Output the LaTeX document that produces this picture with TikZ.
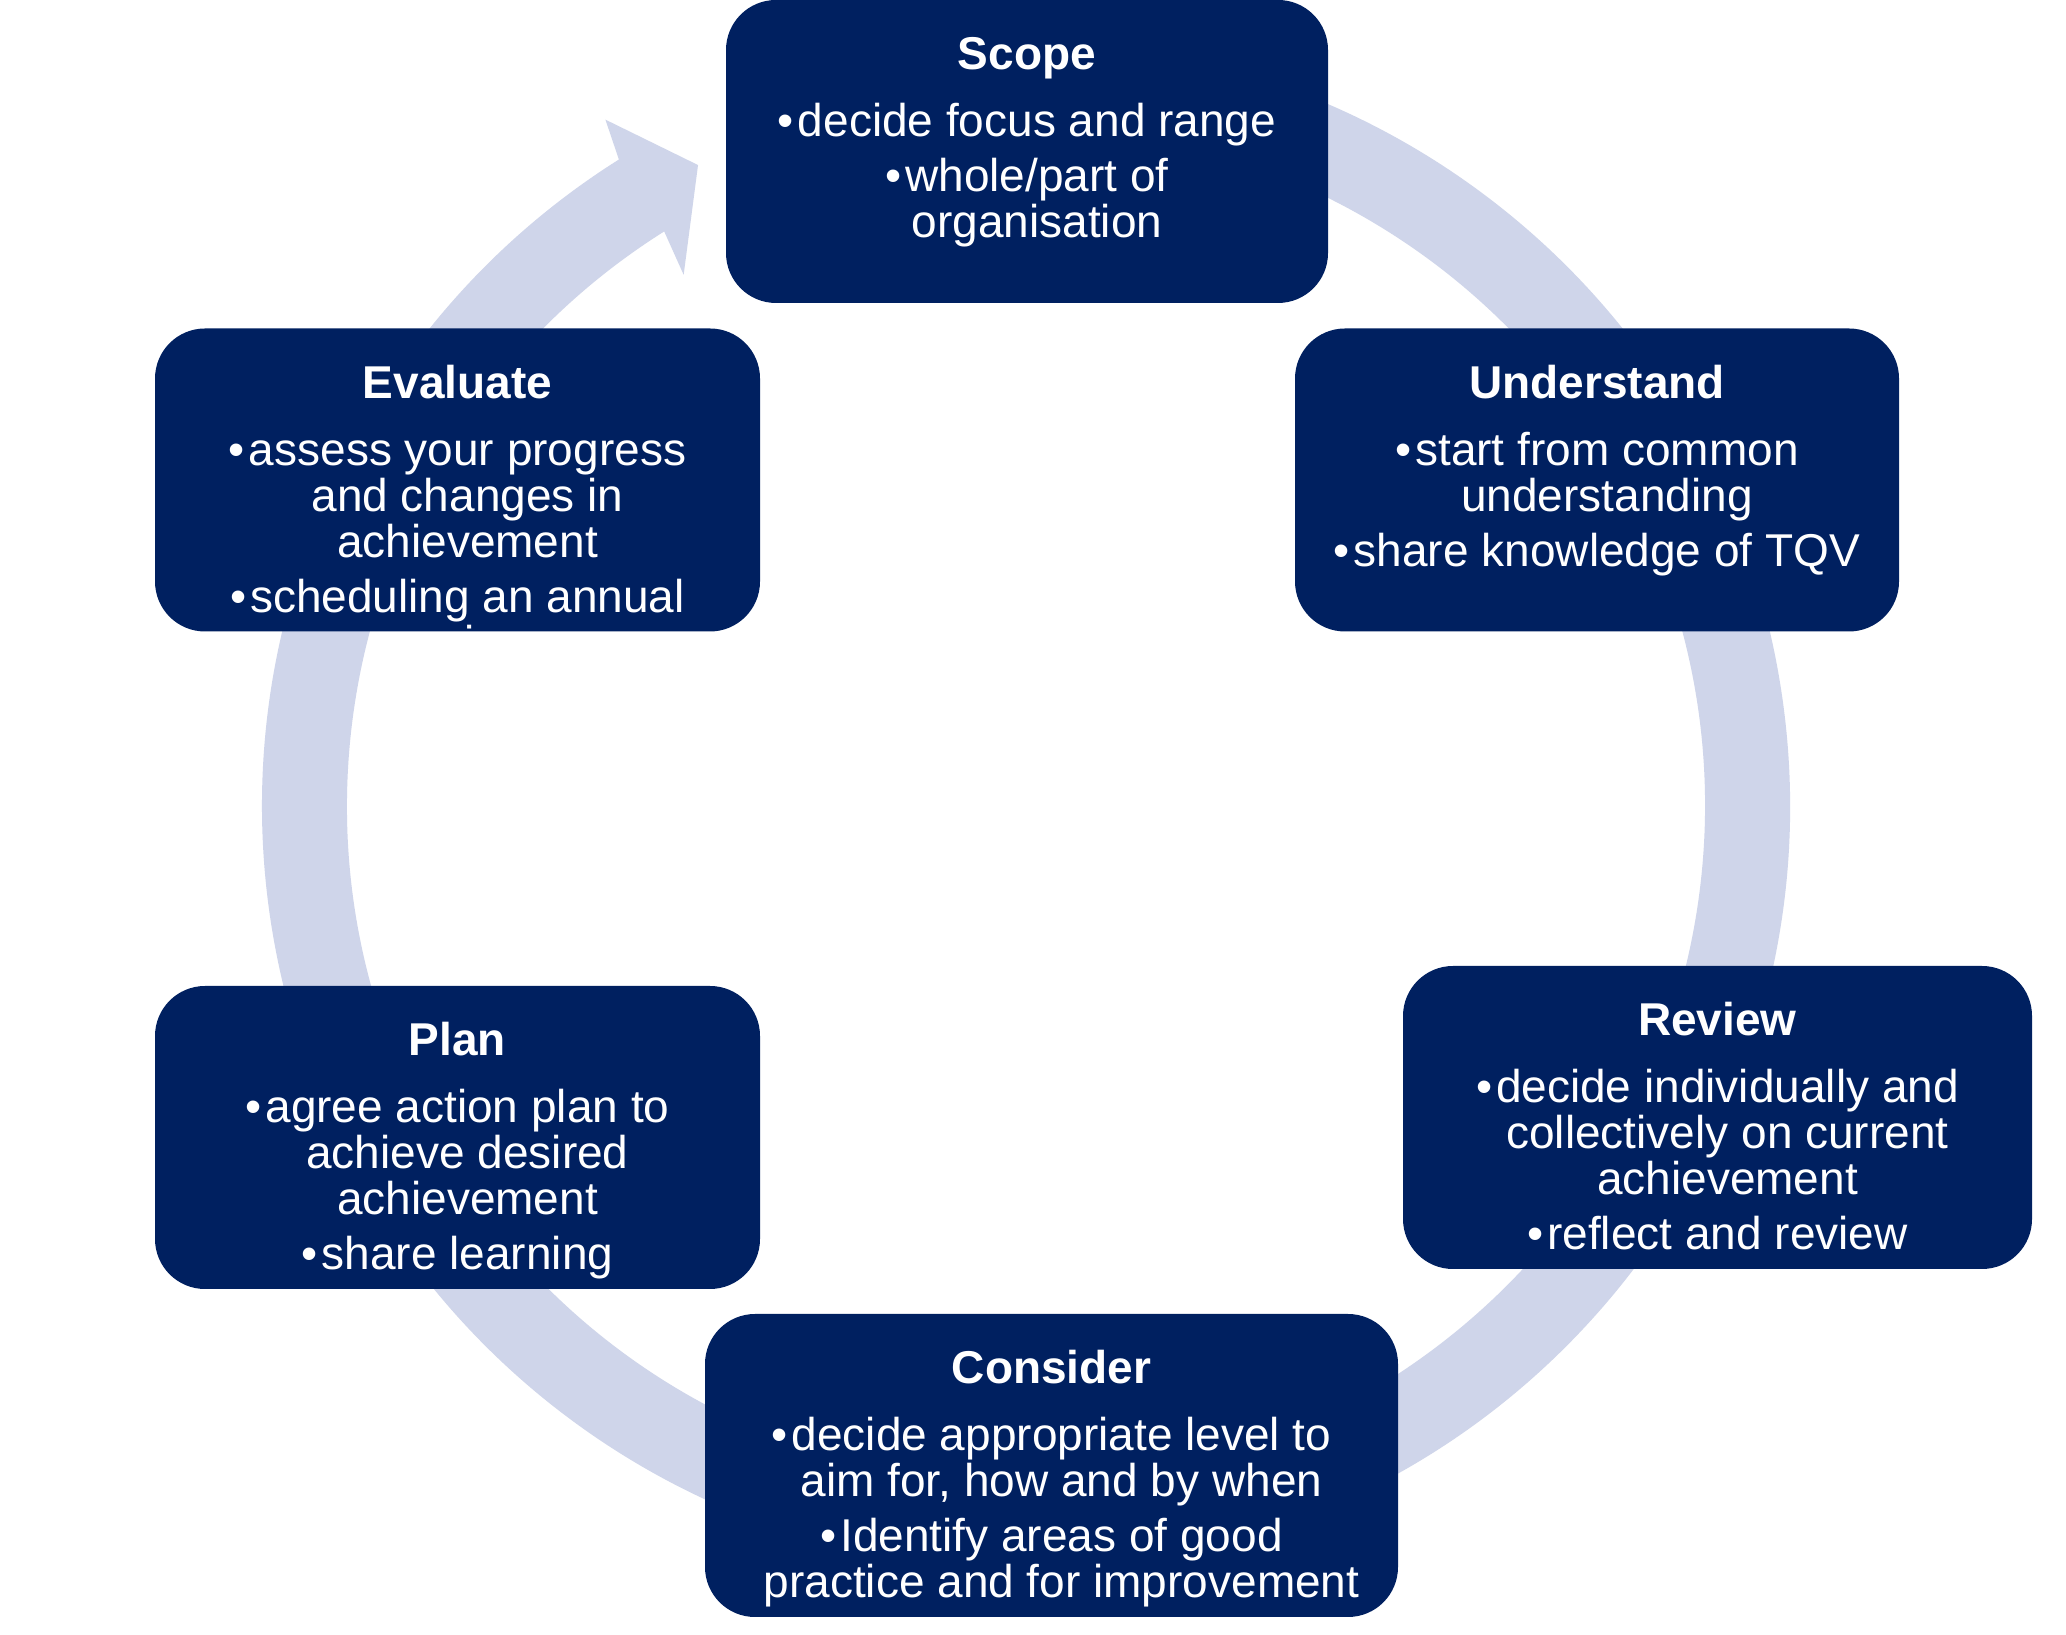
\documentclass[tikz,border=0pt]{standalone}
\usepackage{fontspec}
\setmainfont{Liberation Sans}
\definecolor{navy}{RGB}{0,32,96}
\definecolor{ringc}{RGB}{207,213,234}
\newcommand\bulx{\makebox[20pt][l]{•}}
\newcommand\indx{\hspace*{20pt}}
\newcommand\ttl[1]{\textbf{\rule{0pt}{40pt}#1}}
\begin{document}
\begin{tikzpicture}[x=1pt,y=1pt,
  stepbox/.style={fill=navy, rounded corners=50pt, inner sep=0pt, minimum height=303pt},
  txt/.style={text=white, align=center, inner sep=0pt, anchor=north, font=\fontsize{46}{46}\selectfont}]
\useasboundingbox (0,0) rectangle (2066,1635);
\fill[white] (0,0) rectangle (2066,1635);
% cycle arrow
\fill[ringc, shift={(1026,829)}] (100:764) arc[start angle=100, end angle=-237.8, radius=764]
  -- (-238.5:805) -- (-242.9:720) -- (-237.2:632) -- (-237.8:679)
  arc[start angle=-237.8, end angle=100, radius=679] -- cycle;
% boxes
\node[stepbox, minimum width=602pt] (scope) at (1027,1483.5) {};
\node[stepbox, minimum width=604pt] (understand) at (1597,1155) {};
\node[stepbox, minimum width=629pt] (review) at (1717.5,517.5) {};
\node[stepbox, minimum width=693pt] (consider) at (1051.5,169.5) {};
\node[stepbox, minimum width=605pt] (plan) at (457.5,497.5) {};
\node[stepbox, minimum width=605pt] (evaluate) at (457.5,1155) {};
% texts
\node[txt] (scopet) at ([yshift=-30pt]scope.north)
  {\ttl{Scope}\\[21pt]\bulx decide focus and range\\[9pt]\bulx whole/part of\\\indx organisation};
\node[txt] (understandt) at ([yshift=-30pt]understand.north)
  {\ttl{Understand}\\[21pt]\bulx start from common\\\indx understanding\\[9pt]\bulx share knowledge of TQV};
\node[txt] (reviewt) at ([yshift=-30pt]review.north)
  {\ttl{Review}\\[21pt]\bulx decide individually and\\\indx collectively on current\\\indx achievement\\[9pt]\bulx reflect and review};
\node[txt] (considert) at ([yshift=-30pt]consider.north)
  {\ttl{Consider}\\[21pt]\bulx decide appropriate level to\\\indx aim for, how and by when\\[9pt]\bulx Identify areas of good\\\indx practice and for improvement};
\node[txt] (plant) at ([yshift=-30pt]plan.north)
  {\ttl{Plan}\\[21pt]\bulx agree action plan to\\\indx achieve desired\\\indx achievement\\[9pt]\bulx share learning};
\begin{scope}
\clip[rounded corners=50pt] (evaluate.south west) rectangle (evaluate.north east);
\node[txt] (evaluatet) at ([yshift=-30pt]evaluate.north)
  {\ttl{Evaluate}\\[21pt]\bulx assess your progress\\\indx and changes in\\\indx achievement\\[9pt]\bulx scheduling an annual\\\indx review};
\end{scope}
\end{tikzpicture}
\end{document}
